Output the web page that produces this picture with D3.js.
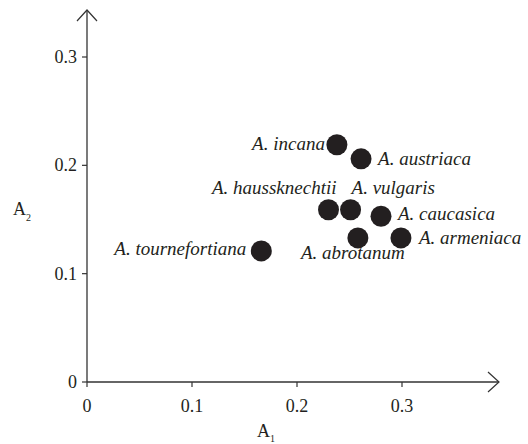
<!doctype html>
<html lang="en">
  <head>
    <meta charset="UTF-8" />
    <title>A1 vs A2 scatter</title>
    <script src="https://d3js.org/d3.v7.min.js"></script>
    <style>
      body {
        margin: 0;
        background: #fff;
      }
      svg text {
        font-family: "Liberation Serif", "Times New Roman", serif;
        fill: #231f20;
      }
      .tick-label {
        font-size: 18px;
      }
      .point-label {
        font-size: 19px;
        font-style: italic;
      }
    </style>
  </head>
  <body>
    <svg width="528" height="444"></svg>

    <script>
      // data
      const species = [
        "A. incana",
        "A. austriaca",
        "A. haussknechtii",
        "A. vulgaris",
        "A. caucasica",
        "A. abrotanum",
        "A. armeniaca",
        "A. tournefortiana",
      ];
      const a1Values = [0.238, 0.261, 0.230, 0.251, 0.280, 0.258, 0.299, 0.166];
      const a2Values = [0.219, 0.206, 0.159, 0.159, 0.153, 0.133, 0.133, 0.121];
      const xTicks = [0, 0.1, 0.2, 0.3];
      const yTicks = [0, 0.1, 0.2, 0.3];

      // where each name sits around its dot
      const labelPlace = {
        "A. incana": { anchor: "end", dx: -12, dy: 5 },
        "A. austriaca": { anchor: "start", dx: 17, dy: 6 },
        "A. haussknechtii": { anchor: "end", dx: 8, dy: -16 },
        "A. vulgaris": { anchor: "start", dx: 1, dy: -16 },
        "A. caucasica": { anchor: "start", dx: 17, dy: 4 },
        "A. abrotanum": { anchor: "middle", dx: -5, dy: 21 },
        "A. armeniaca": { anchor: "start", dx: 18, dy: 6 },
        "A. tournefortiana": { anchor: "end", dx: -15, dy: 4 },
      };

      const svg = d3.select("svg");
      const ink = "#231f20";

      const x = d3.scaleLinear().domain([0, 0.3]).range([87, 402]);
      const y = d3.scaleLinear().domain([0, 0.3]).range([382, 57]);

      const xEnd = 499,
        yEnd = 10;

      // axes lines with open arrow heads
      const axes = svg.append("g").attr("stroke", "#333").attr("fill", "none");
      axes
        .append("line")
        .attr("x1", x(0))
        .attr("y1", y(0))
        .attr("x2", xEnd)
        .attr("y2", y(0))
        .attr("stroke-width", 1.3);
      axes
        .append("line")
        .attr("x1", x(0))
        .attr("y1", y(0))
        .attr("x2", x(0))
        .attr("y2", yEnd)
        .attr("stroke-width", 1.3);
      axes
        .append("path")
        .attr("stroke-width", 1.2)
        .attr(
          "d",
          `M${xEnd - 11},${y(0) - 10}L${xEnd},${y(0)}L${xEnd - 11},${y(0) + 10}`,
        );
      axes
        .append("path")
        .attr("stroke-width", 1.2)
        .attr(
          "d",
          `M${x(0) - 10},${yEnd + 11}L${x(0)},${yEnd}L${x(0) + 10},${yEnd + 11}`,
        );

      // ticks
      axes
        .selectAll(".xt")
        .data(xTicks)
        .enter()
        .append("line")
        .attr("x1", (d) => x(d))
        .attr("x2", (d) => x(d))
        .attr("y1", y(0))
        .attr("y2", y(0) + 5)
        .attr("stroke-width", 1.2);
      axes
        .selectAll(".yt")
        .data(yTicks)
        .enter()
        .append("line")
        .attr("x1", x(0) - 5)
        .attr("x2", x(0))
        .attr("y1", (d) => y(d))
        .attr("y2", (d) => y(d))
        .attr("stroke-width", 1.2);

      svg
        .selectAll(".xl")
        .data(xTicks)
        .enter()
        .append("text")
        .attr("class", "tick-label")
        .attr("x", (d) => x(d))
        .attr("y", y(0) + 30)
        .attr("text-anchor", "middle")
        .text((d) => d);

      svg
        .selectAll(".yl")
        .data(yTicks)
        .enter()
        .append("text")
        .attr("class", "tick-label")
        .attr("x", x(0) - 10)
        .attr("y", (d) => y(d) + 6)
        .attr("text-anchor", "end")
        .text((d) => d);

      // axis titles with subscripts
      const a2 = svg
        .append("text")
        .attr("class", "tick-label")
        .attr("x", 13)
        .attr("y", 215);
      a2.append("tspan").text("A");
      a2.append("tspan")
        .attr("font-size", "10px")
        .attr("dy", 6)
        .text("2");

      const a1 = svg
        .append("text")
        .attr("class", "tick-label")
        .attr("x", 257)
        .attr("y", 437);
      a1.append("tspan").text("A");
      a1.append("tspan")
        .attr("font-size", "10px")
        .attr("dy", 5)
        .text("1");

      // dots
      svg
        .selectAll(".dot")
        .data(species)
        .enter()
        .append("circle")
        .attr("class", "dot")
        .attr("cx", (d, i) => x(a1Values[i]))
        .attr("cy", (d, i) => y(a2Values[i]))
        .attr("r", 10.5)
        .attr("fill", ink);

      svg
        .selectAll(".point-label")
        .data(species)
        .enter()
        .append("text")
        .attr("class", "point-label")
        .attr("x", (d, i) => x(a1Values[i]) + labelPlace[d].dx)
        .attr("y", (d, i) => y(a2Values[i]) + labelPlace[d].dy)
        .attr("text-anchor", (d) => labelPlace[d].anchor)
        .text((d) => d);
    </script>
  </body>
</html>
